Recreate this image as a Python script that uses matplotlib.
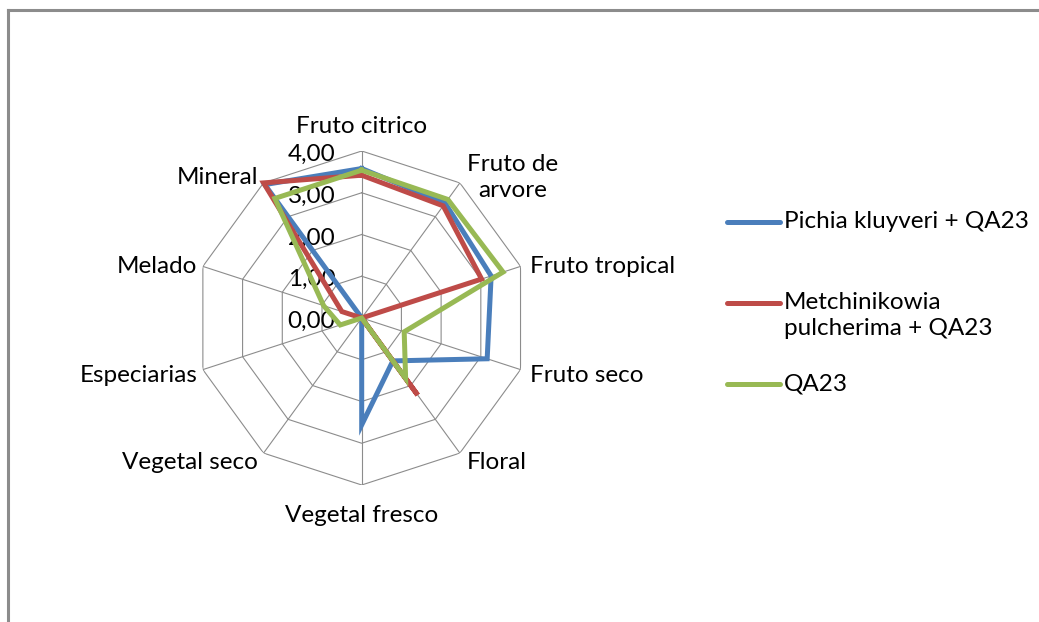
import numpy as np
import matplotlib
matplotlib.use("Agg")
import matplotlib.pyplot as plt
from matplotlib.lines import Line2D

plt.rcParams['font.family'] = ['Lato', 'DejaVu Sans']

# categories clockwise from the top
categories = ["Fruto citrico", "Fruto de\narvore", "Fruto tropical", "Fruto seco", "Floral",
              "Vegetal fresco", "Vegetal seco", "Especiarias", "Melado", "Mineral"]
series_names = ["Pichia kluyveri + QA23", "Metchinikowia\npulcherima + QA23", "QA23"]
pichia = [3.58, 3.40, 3.26, 3.16, 1.27, 2.56, 0.0, 0.0, 0.0, 3.95]
metch = [3.42, 3.32, 3.02, 0.0, 2.28, 0.0, 0.0, 0.0, 0.50, 4.00]
qa23 = [3.54, 3.51, 3.56, 1.07, 1.79, 0.0, 0.0, 0.54, 0.96, 3.54]
levels = [0, 1, 2, 3, 4]
level_labels = ["0,00", "1,00", "2,00", "3,00", "4,00"]

colors = ["#4A7EBB", "#BE4B48", "#98B954"]
grid_col = "#8C8C8C"
fs = 17.5

W, H = 1039, 622
fig = plt.figure(figsize=(W / 100, H / 100), dpi=100)

# radar axes placed by pixel centre / radius
cx, cy, R = 361.7, 318, 167
ax = fig.add_axes([(cx - R) / W, 1 - (cy + R) / H, 2 * R / W, 2 * R / H], projection='polar')
ax.set_theta_zero_location('N')
ax.set_theta_direction(-1)
ax.set_ylim(0, 4)
ax.grid(False)
ax.spines['polar'].set_visible(False)
ax.set_xticks([])
ax.set_yticks([])
ax.patch.set_alpha(0)

n = len(categories)
theta = np.arange(n) * 2 * np.pi / n
theta_c = np.append(theta, theta[0])

# decagon grid
for lv in levels[1:]:
    ax.plot(theta_c, [lv] * (n + 1), color=grid_col, lw=0.8, zorder=1)
for t in theta:
    ax.plot([t, t], [0, levels[-1]], color=grid_col, lw=0.8, zorder=1)

for vals, col in zip([pichia, metch, qa23], colors):
    ax.plot(theta_c, vals + vals[:1], color=col, lw=3.6, zorder=3,
            solid_joinstyle='miter', clip_on=False)

# ring labels
for lv, lab in zip(levels, level_labels):
    ax.annotate(lab, xy=(0, lv), xytext=(-19, -2.5), textcoords='offset points',
                ha='right', va='center', fontsize=fs, color='black', zorder=2)

# category labels: offsets in points from each outer vertex
offsets = [(0, 18, 'center', 'center'), (38, 4, 'center', 'center'), (7, 0, 'left', 'center'),
           (7, -4, 'left', 'center'), (5, -7, 'left', 'center'), (0, -22, 'center', 'center'),
           (-4, -7, 'right', 'center'), (-4, -4, 'right', 'center'), (-4, 0, 'right', 'center'),
           (-4, 4, 'right', 'center')]
for t, lab, (dx, dy, ha, va) in zip(theta, categories, offsets):
    ax.annotate(lab, xy=(t, 4), xytext=(dx, dy), textcoords='offset points',
                ha=ha, va=va, fontsize=fs, color='black', linespacing=1.3,
                annotation_clip=False)

# legend drawn by hand
leg_y = [222, 303, 384]
for name, col, y in zip(series_names, colors, leg_y):
    fig.add_artist(Line2D([727 / W, 780 / W], [1 - y / H, 1 - y / H], color=col, lw=3.6,
                          solid_capstyle='round'))
    fig.text(784 / W, 1 - (y - 11) / H, name, ha='left', va='top', fontsize=fs,
             color='black', linespacing=1.3)

# chart border (cropped frame)
fig.add_artist(Line2D([8 / W, 1], [1 - 10 / H, 1 - 10 / H], color=grid_col, lw=2.2))
fig.add_artist(Line2D([8 / W, 8 / W], [0, 1 - 10 / H], color=grid_col, lw=2.2))

fig.savefig("out.png", dpi=100, facecolor='white')
